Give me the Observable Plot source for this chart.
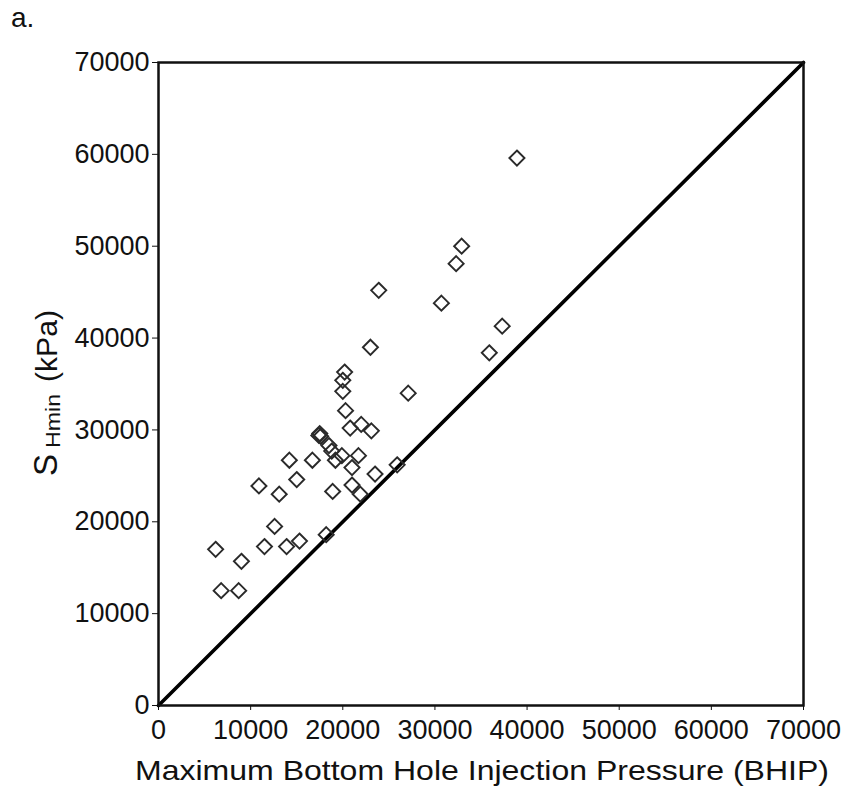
<!DOCTYPE html>
<html>
<head>
<meta charset="utf-8">
<script src="https://cdn.jsdelivr.net/npm/d3@7"></script>
<script src="https://cdn.jsdelivr.net/npm/@observablehq/plot@0.6"></script>
<style>
  html, body { margin: 0; padding: 0; background: #fff; }
  #chart { position: relative; width: 843px; height: 793px; }
</style>
</head>
<body>
<div id="chart"></div>
<script>
// Data
const bhip  = [6200, 6800, 8700, 9000, 10900, 11500, 12600, 13100, 13900, 14200, 15000, 15300, 16700, 17400, 17500, 17600, 18200, 18500, 18800, 18900, 19200, 19900, 20000, 20000, 20200, 20300, 20800, 21000, 21000, 21700, 21900, 22000, 23000, 23100, 23500, 23900, 25900, 27100, 30700, 32300, 32900, 35900, 37300, 38900];
const shmin = [17000, 12500, 12500, 15700, 23900, 17300, 19500, 23000, 17300, 26700, 24600, 17900, 26700, 29400, 29600, 29300, 18600, 28300, 27700, 23300, 26700, 27200, 34200, 35400, 36300, 32100, 30200, 25900, 24000, 27200, 23000, 30600, 39000, 29900, 25200, 45200, 26200, 34000, 43800, 48100, 50000, 38400, 41300, 59600];
const lineX = [0, 70000];
const lineY = [0, 70000];
const xTicks = [0, 10000, 20000, 30000, 40000, 50000, 60000, 70000];
const yTicks = [0, 10000, 20000, 30000, 40000, 50000, 60000, 70000];
const panelLabel = "a.";
const xLabel = "Maximum Bottom Hole Injection Pressure (BHIP)";

const points = bhip.map((x, i) => ({x, y: shmin[i]}));
const diag = lineX.map((x, i) => ({x, y: lineY[i]}));

const plot = Plot.plot({
  width: 843,
  height: 793,
  marginLeft: 158,
  marginRight: 40,
  marginTop: 62,
  marginBottom: 88,
  style: {fontFamily: "'Liberation Sans', Arial, sans-serif", fontSize: "27px", background: "#fff", color: "#111"},
  x: {domain: [0, 70000], ticks: xTicks, tickFormat: d => String(d), label: null},
  y: {domain: [0, 70000], ticks: yTicks, tickFormat: d => String(d), label: null},
  marks: [
    Plot.axisX({ticks: xTicks, tickFormat: d => String(d), tickSize: 5, tickPadding: 9, label: null, stroke: "#111", fill: "#111", fontSize: 27}),
    Plot.axisY({ticks: yTicks, tickFormat: d => String(d), tickSize: 6, tickPadding: 3, label: null, stroke: "#111", fill: "#111", fontSize: 27}),
    Plot.line(diag, {x: "x", y: "y", stroke: "#000", strokeWidth: 3.6}),
    Plot.dot(points, {x: "x", y: "y", symbol: "diamond2", r: 6.8, stroke: "#2a2a2a", strokeWidth: 1.9, fill: "none"}),
    Plot.frame({stroke: "#111", strokeWidth: 2.5})
  ]
});

const svg = d3.select(plot);

// Panel label
svg.append("text")
  .attr("x", 11).attr("y", 27)
  .attr("text-anchor", "start")
  .attr("font-size", 28)
  .attr("fill", "#111")
  .text(panelLabel);

// X axis label
svg.append("text")
  .attr("x", 135).attr("y", 780)
  .attr("text-anchor", "start")
  .attr("font-size", 28)
  .attr("fill", "#111")
  .attr("textLength", 694)
  .attr("lengthAdjust", "spacingAndGlyphs")
  .text(xLabel);

// Y axis label with subscript
const yl = svg.append("text")
  .attr("transform", "translate(56.5,0) rotate(-90)")
  .attr("text-anchor", "start")
  .attr("fill", "#111");
yl.append("tspan").attr("x", -476).attr("font-size", 33).text("S");
yl.append("tspan").attr("x", -448).attr("dy", 3).attr("font-size", 20).attr("textLength", 54).attr("lengthAdjust", "spacingAndGlyphs").text("Hmin");
yl.append("tspan").attr("x", -382).attr("dy", -3).attr("font-size", 29).attr("textLength", 72).attr("lengthAdjust", "spacingAndGlyphs").text("(kPa)");

document.getElementById("chart").appendChild(plot);
</script>
</body>
</html>
